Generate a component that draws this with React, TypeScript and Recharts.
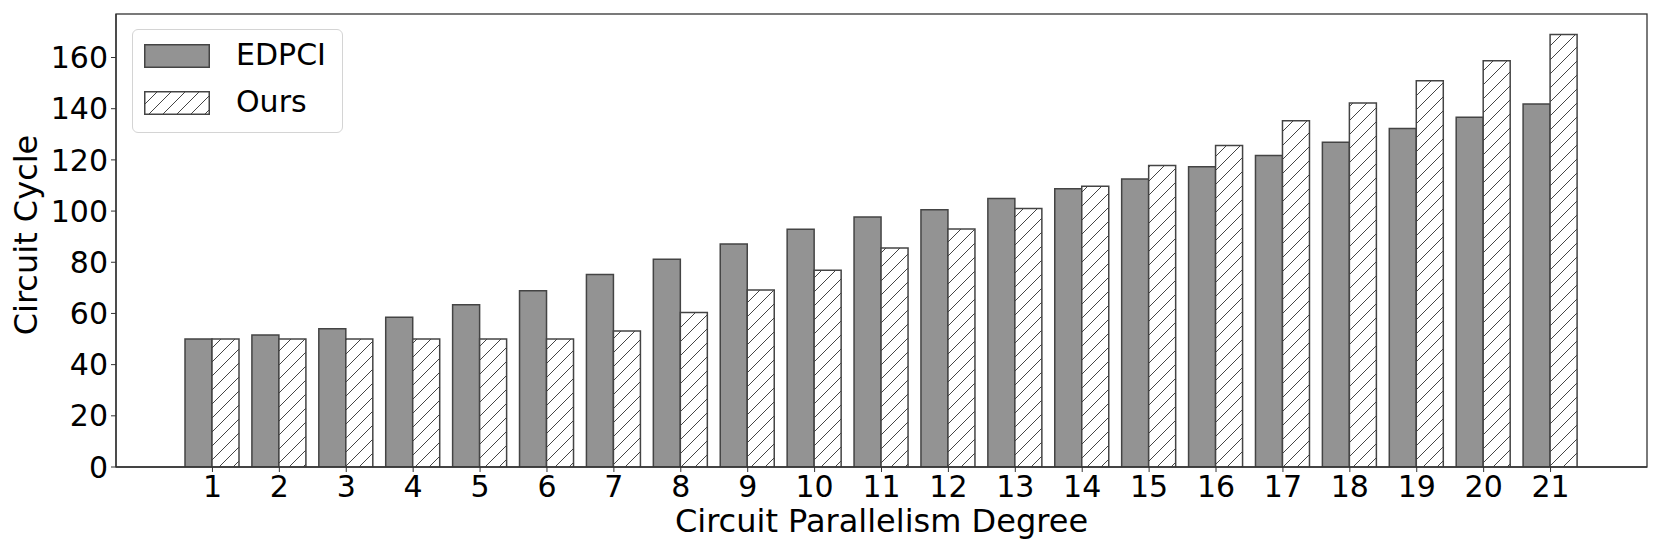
import * as R from "recharts";
import { BarChart, Bar, XAxis, YAxis, Legend, Label } from "recharts";

// Circuit parallelism degree on the x axis
const DEGREES = ["1", "2", "3", "4", "5", "6", "7", "8", "9", "10", "11", "12", "13", "14", "15", "16", "17", "18", "19", "20", "21"];

// circuit cycles
const EDPCI = [50, 51.6, 54, 58.5, 63.4, 68.9, 75.2, 81.2, 87.1, 92.9, 97.7, 100.5, 104.9, 108.7, 112.5, 117.3, 121.7, 126.9, 132.3, 136.7, 141.8];
const OURS = [50, 50, 50, 50, 50, 50, 53.1, 60.4, 69.2, 76.9, 85.6, 93.0, 101.0, 109.7, 117.8, 125.6, 135.3, 142.2, 150.9, 158.7, 169.0];

const Y_TICKS = [0, 20, 40, 60, 80, 100, 120, 140, 160];

const FONT = "'DejaVu Sans', Verdana, sans-serif";
const EDGE = "#444";
const GREY = "#939393";

const data = DEGREES.map((deg, i) => ({ deg, edpci: EDPCI[i], ours: OURS[i] }));

// recharts 3 hook, may be missing on older builds
const usePlotArea: any = (R as any).usePlotArea;

function HatchDefs({ id }: { id: string }) {
	return (
		<defs>
			<pattern id={id} patternUnits="userSpaceOnUse" width={14} height={14}>
				<rect width={14} height={14} fill="#fff" />
				<path d="M0,14 L14,0 M-4,4 L4,-4 M10,18 L18,10" stroke={EDGE} strokeWidth={1} />
			</pattern>
		</defs>
	);
}

// top and right spines around the plot area
function Frame() {
	const area = usePlotArea ? usePlotArea() : null;
	if (!area) return null;
	return (
		<rect
			x={area.x}
			y={area.y}
			width={area.width}
			height={area.height}
			fill="none"
			stroke="#333"
			strokeWidth={1.3}
		/>
	);
}

function LegendBox() {
	const rows = [
		{ label: "EDPCI", fill: GREY, top: 15 },
		{ label: "Ours", fill: "url(#hatch-legend)", top: 62 },
	];
	return (
		<div
			style={{
				position: "relative",
				width: 211,
				height: 104,
				boxSizing: "border-box",
				border: "1.5px solid #d4d4d4",
				borderRadius: 6,
				background: "#fff",
				fontFamily: FONT,
				fontSize: 30,
				color: "#000",
			}}
		>
			{rows.map((r) => (
				<div key={r.label}>
					<svg width={66} height={24} style={{ position: "absolute", left: 11, top: r.top - 1 }}>
						<HatchDefs id="hatch-legend" />
						<rect x={0.75} y={0.75} width={64.5} height={22.5} fill={r.fill} stroke={EDGE} strokeWidth={1.5} />
					</svg>
					<div style={{ position: "absolute", left: 103, top: r.top - 8, lineHeight: "36px" }}>{r.label}</div>
				</div>
			))}
		</div>
	);
}

const YTitle = (props: any) => {
	const { viewBox } = props;
	const x = viewBox.x + 37;
	const y = 235;
	return (
		<text x={x} y={y} transform={`rotate(-90, ${x}, ${y})`} textAnchor="middle" fontSize={32} fontFamily={FONT} fill="#000">
			Circuit Cycle
		</text>
	);
};

const XTitle = (props: any) => {
	const { viewBox } = props;
	return (
		<text x={viewBox.x + viewBox.width / 2} y={532} textAnchor="middle" fontSize={32} fontFamily={FONT} fill="#000">
			Circuit Parallelism Degree
		</text>
	);
};

export default function App() {
	const tick = { fontSize: 30, fill: "#000", fontFamily: FONT };
	return (
		<div style={{ position: "absolute", left: 0, top: 0, width: 1661, height: 554, background: "#fff" }}>
			<BarChart
				width={1661}
				height={554}
				data={data}
				margin={{ top: 14, right: 14, bottom: 47, left: 0 }}
				barGap={0}
				barSize={27}
				style={{ fontFamily: FONT }}
			>
				<HatchDefs id="hatch" />
				<XAxis
					dataKey="deg"
					height={40}
					padding={{ left: 63, right: 63 }}
					tick={tick}
					tickSize={5}
					tickMargin={4}
					interval={0}
					axisLine={{ stroke: "#333", strokeWidth: 1.3 }}
					tickLine={{ stroke: "#333" }}
				>
					<Label content={XTitle} />
				</XAxis>
				<YAxis
					width={116}
					domain={[0, 177]}
					ticks={Y_TICKS}
					allowDataOverflow
					tick={tick}
					tickSize={5}
					tickMargin={3}
					axisLine={{ stroke: "#333", strokeWidth: 1.3 }}
					tickLine={{ stroke: "#333" }}
				>
					<Label content={YTitle} />
				</YAxis>
				<Legend
					layout="vertical"
					align="center"
					verticalAlign="middle"
					wrapperStyle={{ left: 132, top: 29, width: 211, height: 104 }}
					content={() => <LegendBox />}
				/>
				<Bar dataKey="edpci" name="EDPCI" fill={GREY} stroke={EDGE} strokeWidth={1.5} isAnimationActive={false} />
				<Bar dataKey="ours" name="Ours" fill="url(#hatch)" stroke={EDGE} strokeWidth={1.5} isAnimationActive={false} />
				<Frame />
			</BarChart>
		</div>
	);
}
